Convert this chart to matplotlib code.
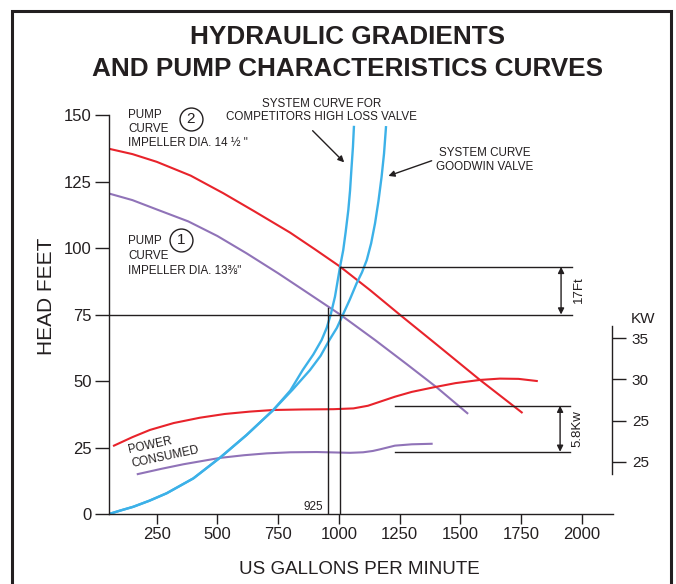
import matplotlib
matplotlib.use("Agg")
import matplotlib.pyplot as plt
from matplotlib.patches import Rectangle

plt.rcParams['font.family'] = ['Liberation Sans', 'DejaVu Sans']

INK = "#231f20"
RED = "#e8232b"
PURPLE = "#9073b8"
BLUE = "#3cb1e8"

# pump curve 2 (impeller 14 1/2") - head in feet vs US gpm
pump2_gpm = [49, 150, 250, 390, 524, 650, 799, 900, 1005, 1128, 1250, 1400, 1581, 1753]
pump2_ft = [137.4, 135.3, 132.4, 127.2, 120.6, 113.9, 105.8, 99.6, 93.0, 84.2, 75.0, 63.9, 50.4, 38.2]

# pump curve 1 (impeller 13 3/8")
pump1_gpm = [49, 150, 250, 380, 500, 620, 750, 854, 1005, 1149, 1280, 1403, 1529]
pump1_ft = [120.6, 118.0, 114.5, 110.0, 104.5, 98.0, 90.5, 84.2, 75.0, 65.4, 56.3, 47.6, 37.9]

# power consumed curves (drawn on the head scale)
power2_gpm = [74, 150, 222, 320, 428, 530, 634, 730, 850, 977, 1060, 1120, 1169, 1231, 1300, 1389,
              1480, 1581, 1663, 1740, 1815]
power2_ft = [25.7, 28.9, 31.6, 34.2, 36.2, 37.6, 38.5, 39.1, 39.3, 39.4, 39.7, 40.7, 42.2, 44.1, 45.9,
             47.6, 49.2, 50.4, 50.9, 50.8, 50.0]
power1_gpm = [172, 270, 360, 511, 610, 703, 800, 909, 1046, 1100, 1140, 1169, 1231, 1300, 1382]
power1_ft = [15.0, 17.0, 18.7, 21.1, 22.1, 22.8, 23.2, 23.3, 23.0, 23.2, 23.7, 24.3, 25.7, 26.2, 26.4]

# system curves
comp_gpm = [54, 100, 153, 220, 291, 401, 511, 620, 730, 800, 851, 895, 929, 950, 966, 984, 1005, 1018,
            1028, 1039, 1046, 1052, 1058, 1062]
comp_ft = [0, 1.3, 2.7, 5.0, 7.8, 13.4, 21.2, 29.7, 39.1, 46.4, 54.1, 60.0, 65.4, 70.0, 74.8, 81.7,
           93.0, 99.2, 106.0, 114.3, 121.5, 130.0, 138.0, 145.5]
goodwin_gpm = [54, 100, 153, 220, 291, 401, 511, 620, 730, 810, 881, 925, 961, 992, 1018, 1045, 1073,
               1095, 1115, 1133, 1149, 1163, 1176, 1186, 1194]
goodwin_ft = [0, 1.3, 2.7, 5.0, 7.8, 13.4, 21.2, 29.7, 39.1, 46.8, 54.1, 59.5, 65.4, 70.0, 75.2, 80.6,
              86.7, 90.8, 95.5, 101.8, 109.3, 117.6, 126.8, 135.5, 145.4]

x_ticks = [250, 500, 750, 1000, 1250, 1500, 1750, 2000]
y_ticks = [0, 25, 50, 75, 100, 125, 150]
kw_ticks = [35, 30, 25, 20]
kw_labels = ["35", "30", "25", "25"]

fig = plt.figure(figsize=(6.76, 5.84), dpi=100)
ax = fig.add_axes([0.16124, 0.11986, 0.74512, 0.68322])

ax.plot(pump2_gpm, pump2_ft, color=RED, lw=1.5)
ax.plot(pump1_gpm, pump1_ft, color=PURPLE, lw=1.5)
ax.plot(power2_gpm, power2_ft, color=RED, lw=1.5)
ax.plot(power1_gpm, power1_ft, color=PURPLE, lw=1.5)
ax.plot(comp_gpm, comp_ft, color=BLUE, lw=1.7)
ax.plot(goodwin_gpm, goodwin_ft, color=BLUE, lw=1.7)

# reference lines
ax.plot([53.5, 1959], [75, 75], color=INK, lw=1)
ax.plot([1005, 1959], [92.9, 92.9], color=INK, lw=1)
ax.plot([955, 955], [0, 77.5], color=INK, lw=1)
ax.plot([1005, 1005], [0, 92.9], color=INK, lw=1)
ax.plot([1231, 1952], [40.7, 40.7], color=INK, lw=1)
ax.plot([1231, 1952], [23.4, 23.4], color=INK, lw=1)

dbl = dict(arrowstyle='<|-|>', color=INK, lw=1, mutation_scale=9, shrinkA=0, shrinkB=0)
ax.annotate("", xy=(1915, 92.9), xytext=(1915, 75), arrowprops=dbl)
ax.annotate("", xy=(1911, 40.7), xytext=(1911, 23.4), arrowprops=dbl)
ax.text(1989, 84.2, "17Ft", rotation=90, ha='center', va='center', fontsize=9.5, color=INK)
ax.text(1981, 32.3, "5.8Kw", rotation=90, ha='center', va='center', fontsize=9.5, color=INK)
ax.text(895, 2.7, "925", ha='center', va='center', fontsize=8.5, color=INK)

ax.text(222, 25.9, "POWER", rotation=12, ha='center', va='center', fontsize=8.5,
        color=INK, rotation_mode='anchor')
ax.text(284, 21.4, "CONSUMED", rotation=12, ha='center', va='center', fontsize=8.5,
        color=INK, rotation_mode='anchor')

# pump curve labels
small = dict(ha='left', va='center', fontsize=8.4, color=INK)
ax.text(133, 150.0, "PUMP", **small)
ax.text(133, 144.7, "CURVE", **small)
ax.text(133, 139.5, "IMPELLER DIA. 14 ½ \"", **small)
ax.text(133, 102.6, "PUMP", **small)
ax.text(133, 97.0, "CURVE", **small)
ax.text(133, 91.5, "IMPELLER DIA. 13⅜\"", **small)
ax.plot([391, 349], [148.4, 103.0], 'o', ms=16.5, mfc='white', mec=INK, mew=1, clip_on=False)
ax.text(391, 148.4, "2", ha='center', va='center', fontsize=11, color=INK)
ax.text(349, 103.0, "1", ha='center', va='center', fontsize=11, color=INK)

# system curve labels
ax.text(927, 154.1, "SYSTEM CURVE FOR", ha='center', va='center', fontsize=8.4, color=INK)
ax.text(927, 149.1, "COMPETITORS HIGH LOSS VALVE", ha='center', va='center', fontsize=8.4, color=INK)
ax.text(1600, 135.6, "SYSTEM CURVE", ha='center', va='center', fontsize=8.4, color=INK)
ax.text(1600, 130.4, "GOODWIN VALVE", ha='center', va='center', fontsize=8.4, color=INK)
one = dict(arrowstyle='-|>', color=INK, lw=1, mutation_scale=9, shrinkA=0, shrinkB=0)
ax.annotate("", xy=(1022, 132.2), xytext=(892, 144.1), arrowprops=one)
ax.annotate("", xy=(1204, 127.1), xytext=(1382, 132.8), arrowprops=one)

ax.set_xlim(53.5, 2127.6)
ax.set_ylim(0, 150)
ax.set_xticks(x_ticks)
ax.set_yticks(y_ticks)
ax.tick_params(axis='y', length=10, width=1, color=INK, labelsize=12, pad=2.4, labelcolor=INK)
ax.tick_params(axis='x', length=7, width=1, color=INK, labelsize=12, pad=2.5, labelcolor=INK)
for s in ['top', 'right']:
    ax.spines[s].set_visible(False)
for s in ['left', 'bottom']:
    ax.spines[s].set_color(INK)
    ax.spines[s].set_linewidth(1)

# KW scale on the right
ax_kw = fig.add_axes([611.7 / 676 - 0.0001, 110 / 584, 0.0001, 148 / 584])
ax_kw.set_ylim(18.5, 36.5)
ax_kw.set_yticks(kw_ticks)
ax_kw.set_yticklabels(kw_labels)
ax_kw.set_xticks([])
ax_kw.yaxis.tick_right()
ax_kw.patch.set_visible(False)
for s in ['top', 'left', 'bottom']:
    ax_kw.spines[s].set_visible(False)
ax_kw.spines['right'].set_color(INK)
ax_kw.spines['right'].set_linewidth(1)
ax_kw.tick_params(axis='y', length=10, width=1, color=INK, labelsize=11, pad=4.5, labelcolor=INK)
fig.text(643 / 676, 1 - 319 / 584, "KW", ha='center', va='center', fontsize=11, color=INK)

# titles and axis names
fig.text(348 / 676, 1 - 44.3 / 584, "HYDRAULIC GRADIENTS", ha='center', va='baseline',
         fontsize=18.8, fontweight='bold', color=INK)
fig.text(348 / 676, 1 - 76 / 584, "AND PUMP CHARACTERISTICS CURVES", ha='center', va='baseline',
         fontsize=18.8, fontweight='bold', color=INK)
fig.text(46.7 / 676, 1 - 296.7 / 584, "HEAD FEET", rotation=90, ha='center', va='center',
         fontsize=15, color=INK)
fig.text(359 / 676, 1 - 574 / 584, "US GALLONS PER MINUTE", ha='center', va='baseline',
         fontsize=13.5, color=INK)

# outer frame
fig.add_artist(Rectangle((12.3 / 676, -0.05), 658.4 / 676, 1.05 - 11 / 584,
                         transform=fig.transFigure, fill=False, lw=2.2, ec=INK))

fig.savefig("out.png", dpi=100)
